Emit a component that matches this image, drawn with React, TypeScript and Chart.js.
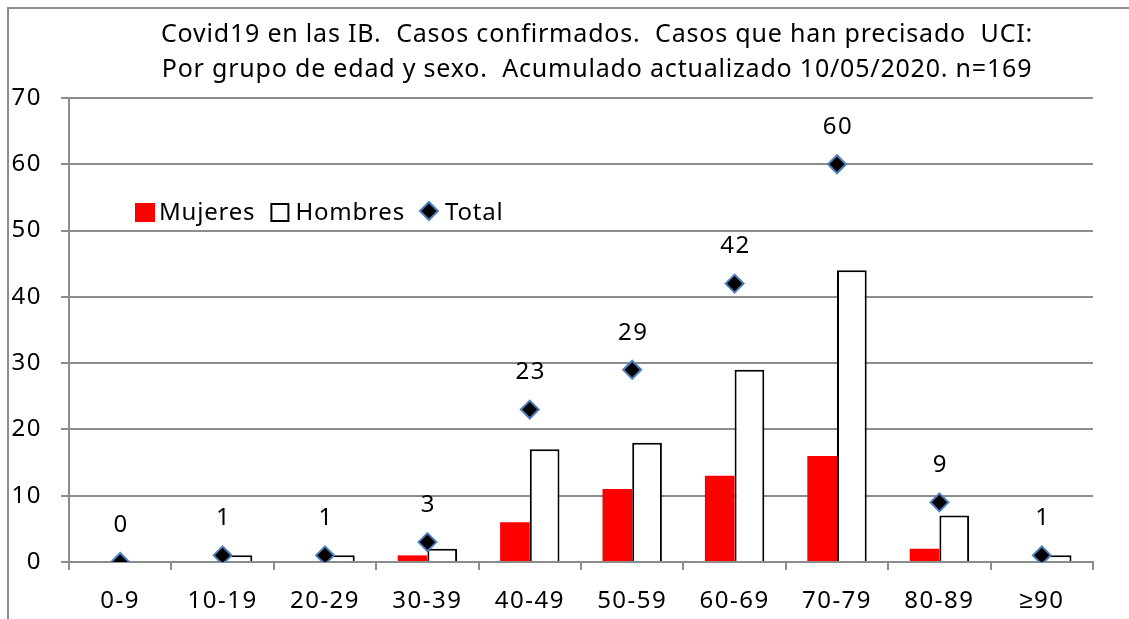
import React, { useEffect, useRef } from 'react';
import { Chart, registerables } from 'chart.js';

Chart.register(...registerables);

const categories = ['0-9', '10-19', '20-29', '30-39', '40-49', '50-59', '60-69', '70-79', '80-89', '≥90'];
const mujeres = [0, 0, 0, 1, 6, 11, 13, 16, 2, 0];
const hombres = [0, 1, 1, 2, 17, 18, 29, 44, 7, 1];
const total = [0, 1, 1, 3, 23, 29, 42, 60, 9, 1];
const titleLines = [
  'Covid19 en las IB.  Casos confirmados.  Casos que han precisado  UCI:',
  'Por grupo de edad y sexo.  Acumulado actualizado 10/05/2020. n=169',
];
const legendLabels = ['Mujeres', 'Hombres', 'Total'];
const yMin = 0;
const yMax = 70;
const yStep = 10;

const W = 1129;
const H = 619;
const FONT = '"Noto Sans", sans-serif';
const GRID = '#8c8c8c';
const RED = '#ff0000';
const BLUE = '#4f81bd';
const SPACING = '1.5px';

const decor = {
  id: 'decor',
  beforeLayout(chart: any) {
    chart.ctx.letterSpacing = SPACING;
  },
  beforeDraw(chart: any) {
    const ctx = chart.ctx;
    ctx.letterSpacing = SPACING;
    ctx.save();
    ctx.fillStyle = '#fff';
    ctx.fillRect(0, 0, W, H);
    ctx.strokeStyle = GRID;
    ctx.lineWidth = 2;
    ctx.beginPath();
    ctx.moveTo(8, H);
    ctx.lineTo(8, 8);
    ctx.lineTo(W, 8);
    ctx.stroke();
    ctx.restore();
  },
  afterDraw(chart: any) {
    const ctx = chart.ctx;
    ctx.save();
    // title
    ctx.fillStyle = '#000';
    ctx.font = `25px ${FONT}`;
    ctx.letterSpacing = '0.8px';
    ctx.textAlign = 'center';
    ctx.textBaseline = 'middle';
    titleLines.forEach((t, i) => ctx.fillText(t, 597, 35 + i * 35));

    // data labels for total
    ctx.font = `24px ${FONT}`;
    ctx.letterSpacing = SPACING;
    const meta = chart.getDatasetMeta(2);
    meta.data.forEach((pt: any, i: number) => {
      ctx.fillText(String(total[i]), pt.x + 1, pt.y - 37);
    });

    // legend
    ctx.letterSpacing = '0.8px';
    ctx.textAlign = 'left';
    ctx.textBaseline = 'alphabetic';
    let x = 135;
    const base = 220;
    // Mujeres
    ctx.fillStyle = RED;
    ctx.fillRect(x, 203, 20, 19);
    ctx.fillStyle = '#000';
    ctx.fillText(legendLabels[0], x + 24, base);
    x = x + 24 + ctx.measureText(legendLabels[0]).width + 15;
    // Hombres
    ctx.fillStyle = '#fff';
    ctx.strokeStyle = '#000';
    ctx.lineWidth = 2;
    ctx.fillRect(x + 1, 204, 17, 17);
    ctx.strokeRect(x + 1, 204, 17, 17);
    ctx.fillStyle = '#000';
    ctx.fillText(legendLabels[1], x + 25, base);
    x = x + 25 + ctx.measureText(legendLabels[1]).width + 14;
    // Total diamond
    const cx = x + 10;
    const cy = 211;
    const r = 9;
    ctx.beginPath();
    ctx.moveTo(cx - r, cy);
    ctx.lineTo(cx, cy - r);
    ctx.lineTo(cx + r, cy);
    ctx.lineTo(cx, cy + r);
    ctx.closePath();
    ctx.fillStyle = '#000';
    ctx.fill();
    ctx.strokeStyle = BLUE;
    ctx.lineWidth = 2;
    ctx.stroke();
    ctx.fillStyle = '#000';
    ctx.fillText(legendLabels[2], x + 26, base);
    ctx.restore();
  },
};

export default function App() {
  const ref = useRef<HTMLCanvasElement>(null);
  useEffect(() => {
    if (!ref.current) return;
    const chart = new Chart(ref.current, {
      type: 'bar',
      data: {
        labels: categories,
        datasets: [
          {
            type: 'bar',
            label: legendLabels[0],
            data: mujeres,
            backgroundColor: RED,
            borderWidth: 0,
            order: 1,
          },
          {
            type: 'bar',
            label: legendLabels[1],
            data: hombres,
            backgroundColor: '#ffffff',
            borderColor: '#000000',
            borderWidth: 2,
            order: 1,
          },
          {
            type: 'line',
            label: legendLabels[2],
            data: total,
            showLine: false,
            pointStyle: 'rectRot',
            pointRadius: 9,
            pointBackgroundColor: '#000000',
            pointBorderColor: BLUE,
            pointBorderWidth: 2,
            order: 0,
          } as any,
        ],
      },
      options: {
        responsive: false,
        animation: false,
        maintainAspectRatio: false,
        layout: { padding: { top: 98, right: 36, left: 0, bottom: 0 } },
        datasets: {
          bar: { categoryPercentage: 0.58, barPercentage: 1 },
        } as any,
        plugins: {
          legend: { display: false },
          title: { display: false },
          tooltip: { enabled: false },
        },
        scales: {
          x: {
            type: 'category',
            offset: true,
            grid: {
              offset: true,
              drawOnChartArea: false,
              drawTicks: true,
              tickLength: 8,
              color: GRID,
              lineWidth: 2,
            },
            border: { display: true, color: GRID, width: 2 },
            ticks: {
              color: '#000',
              font: { family: FONT, size: 24 },
              padding: 17,
              autoSkip: false,
              maxRotation: 0,
              minRotation: 0,
            },
            afterFit: (scale: any) => {
              scale.height = 57;
            },
          },
          y: {
            min: yMin,
            max: yMax,
            grid: { color: GRID, lineWidth: 2, tickLength: 8 },
            border: { display: true, color: GRID, width: 2 },
            ticks: {
              stepSize: yStep,
              color: '#000',
              font: { family: FONT, size: 24 },
              padding: 19,
            },
            afterFit: (scale: any) => {
              scale.width = 69;
            },
          },
        },
      },
      plugins: [decor],
    });
    return () => chart.destroy();
  }, []);
  return (
    <div style={{ position: 'fixed', left: 0, top: 0, width: W, height: H, background: '#fff' }}>
      <canvas ref={ref} width={W} height={H} style={{ display: 'block' }} />
    </div>
  );
}
